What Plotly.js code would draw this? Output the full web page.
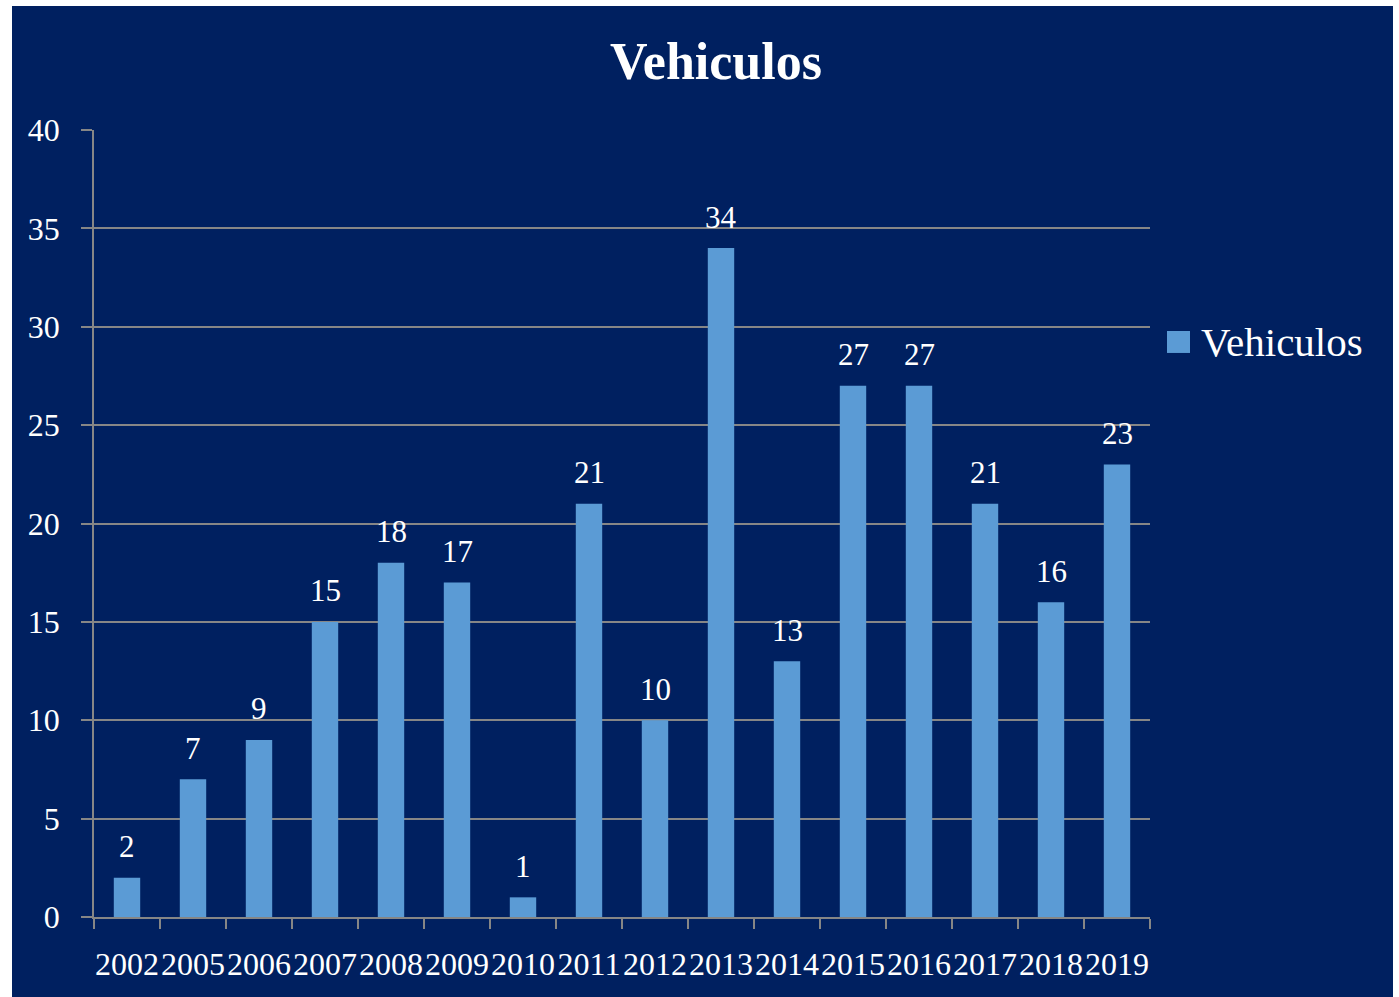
<!DOCTYPE html>
<html>
<head>
<meta charset="utf-8">
<script src="https://cdn.plot.ly/plotly-3.0.1.min.js"></script>
<style>
html,body{margin:0;padding:0;background:#ffffff;width:1399px;height:997px;overflow:hidden;}
#chart{position:absolute;left:12px;top:6px;width:1381px;height:991px;}
</style>
</head>
<body>
<div id="chart"></div>
<script>
const years = ['2002','2005','2006','2007','2008','2009','2010','2011','2012','2013','2014','2015','2016','2017','2018','2019'];
const vehiculos = [2, 7, 9, 15, 18, 17, 1, 21, 10, 34, 13, 27, 27, 21, 16, 23];
const seriesName = 'Vehiculos';
const yTicks = [0, 5, 10, 15, 20, 25, 30, 35, 40];

const navy = '#002060';
const barColor = '#5b9bd5';
const gridColor = '#868686';
const fontFam = '"Liberation Serif", "DejaVu Serif", serif';

const labelAnnotations = years.map((yr, i) => ({
  x: i, y: vehiculos[i], xref: 'x', yref: 'y',
  text: String(vehiculos[i]), showarrow: false,
  yanchor: 'middle', xanchor: 'center', yshift: 31,
  font: {family: fontFam, size: 31, color: '#ffffff'}
}));

const trace = {
  type: 'bar', x: years, y: vehiculos, name: seriesName,
  marker: {color: barColor}, showlegend: false, hoverinfo: 'x+y'
};

const layout = {
  width: 1381, height: 991,
  paper_bgcolor: navy, plot_bgcolor: navy,
  margin: {l: 82, r: 243, t: 124, b: 80, pad: 0},
  bargap: 0.6,
  title: {text: '<b>' + seriesName + '</b>', x: 0.5098, xref: 'container', xanchor: 'center',
          y: 0.9445, yref: 'container', yanchor: 'middle',
          font: {family: fontFam, size: 52, color: '#ffffff'}},
  xaxis: {type: 'category', showgrid: false, showline: true, linecolor: gridColor, linewidth: 1.5,
          ticks: 'outside', tickson: 'boundaries', ticklen: 10, tickcolor: gridColor, tickwidth: 1.5,
          tickangle: 0, tickfont: {family: fontFam, size: 32, color: '#ffffff'}, ticklabelstandoff: 18,
          fixedrange: true},
  yaxis: {range: [0, 40], tickvals: yTicks, showgrid: true, gridcolor: gridColor, gridwidth: 1.5,
          showline: true, linecolor: gridColor, linewidth: 1.5, zeroline: false,
          ticks: 'outside', ticklen: 11, tickcolor: gridColor, tickwidth: 1.5,
          tickfont: {family: fontFam, size: 32, color: '#ffffff'}, ticklabelstandoff: 15,
          fixedrange: true},
  shapes: [{type: 'rect', xref: 'paper', yref: 'paper', x0: 1.0161, x1: 1.0379, y0: 0.7167, y1: 0.7446,
            fillcolor: barColor, line: {width: 0}}],
  annotations: labelAnnotations.concat([{
    xref: 'paper', yref: 'paper', x: 1.0464, y: 0.7306, xanchor: 'left', yanchor: 'middle',
    text: seriesName, showarrow: false, font: {family: fontFam, size: 41, color: '#ffffff'}
  }])
};

Plotly.newPlot('chart', [trace], layout, {displayModeBar: false, responsive: false});
</script>
</body>
</html>
